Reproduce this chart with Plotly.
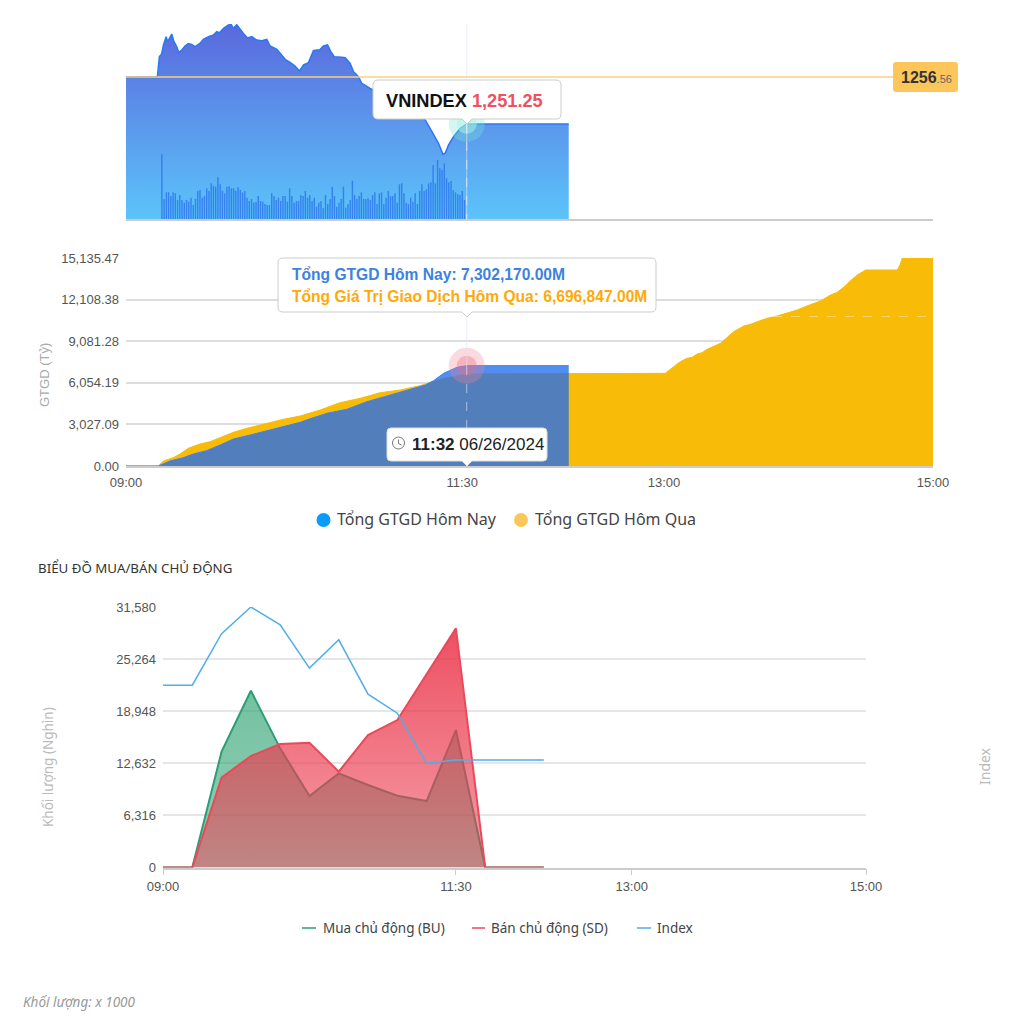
import pandas as pd
import plotly.graph_objects as go

W, H = 1022, 1024
BASE = pd.Timestamp("2024-06-26 09:00")

# ---- VNINDEX line (minutes after 09:00, points)
index_minutes = [0,14,14.9,15.9,16.7,17.9,18.6,19.3,20.4,21.4,22.6,23.5,24.9,26.3,27.8,29.3,30.8,33,34.5,36.8,39,40.5,41.7,43.5,45.7,46.9,47.9,49.4,50.9,52.4,54.2,56.1,58.3,60.6,62.8,64.3,67.3,68.8,71.3,73.2,75.4,77.4,79.2,81.4,83.6,85.1,86.3,88.1,89.9,91.4,92.9,96.3,97.8,100,101.5,103.7,105.2,108.9,110.4,116.4,123.8,129.8,133.5,136.5,139.4,141.4,142.4,143.9,146.1,149.1,152,197.5]
index_values = [1256.56,1256.6,1258.86,1259.16,1260.18,1261.12,1260.55,1260.93,1261.42,1260.55,1259.99,1259.35,1259.61,1260.06,1260.33,1260.25,1259.99,1260.36,1260.82,1261.12,1261.31,1261.68,1261.57,1262.06,1262.44,1262.51,1262.06,1262.47,1261.95,1261.49,1260.97,1261.12,1260.74,1260.67,1260.82,1260.06,1259.69,1259.23,1258.48,1258.22,1257.8,1257.24,1257.92,1258.18,1259.54,1259.61,1259.61,1260.06,1260.18,1259.42,1258.86,1258.78,1258.74,1258.1,1257.16,1256.6,1255.84,1255.28,1255.09,1254.26,1253.2,1252.27,1251.7,1250.38,1249.06,1247.82,1247.93,1248.88,1249.82,1250.76,1251.25,1251.25]
reference_index = 1256.56
current_index = 1251.25

# ---- per-minute volume bars, from 09:16
volume_start_minute = 16
volume_values = [194,60,80,80,69,80,77,57,72,57,49,57,52,64,42,60,84,87,64,69,92,84,107,100,97,125,104,85,77,97,99,92,92,85,95,87,79,84,64,54,60,49,52,69,54,
                 52,45,42,42,77,69,57,64,54,69,69,52,92,69,49,54,54,72,69,84,64,72,54,64,37,49,54,32,72,45,60,97,69,37,49,60,97,34,44,57,115,72,60,69,80,60,
                 60,62,57,72,80,45,77,80,45,64,84,69,69,77,49,104,107,77,49,45,64,52,77,45,84,104,84,89,107,110,162,107,177,152,147,167,122,110,114,87,80,75,72,84,57]

# ---- cumulative traded value
today_minutes = [0,14.4,19.6,25.6,30,36,42,47.9,55.4,62.8,70.2,77.7,81.4,89.6,98.5,107.5,116.4,125.3,133.5,137.2,141.7,147.6,152,197.5]
today_values = [0,0,364,606,873,1116,1528,1965,2256,2547,2863,3178,3396,3832,4124,4681,5094,5482,5894,6210,6743,7180,7302.17,7302.17]
yesterday_minutes = [0,14.4,16.7,21.1,24.1,27.8,33,37.5,42,47.9,53.9,61.3,70.2,77.7,86.6,95.5,104.5,113.4,122.3,131.2,140,152,238.4,240.6,244.3,247.3,250.3,252.5,254.8,257,259.2,262.2,265.2,267.4,271.1,275.6,278.6,281.6,286,290.5,295,299.4,303.8,309.8,314.3,317.3,321,323.2,326.2,330,344.1,345.3,346.3,360]
yesterday_values = [0,0,364,606,873,1286,1601,1770,2062,2450,2741,3056,3396,3639,4075,4609,4924,5336,5530,5846,6300,6696.85,6743,6743,7229,7593,7835,7908,8150,8247,8490,8684,8926,9242,9775,10188,10309,10503,10746,10915,11110,11352,11643,12007,12444,12638,13123,13486,13899,14263,14263,14627,15135.47,15135.47]
value_ticks = [0,3027.09,6054.19,9081.28,12108.38,15135.47]
value_labels = ["0.00","3,027.09","6,054.19","9,081.28","12,108.38","15,135.47"]

# ---- active buy / sell, every 15 minutes
flow_minutes = [0,15,30,45,60,75,90,105,120,135,150,165,180,195]
buy_values = [0,0,14039,21432,14443,8666,11413,9999,8706,8060,16665,0,0,0]
sell_values = [0,0,10888,13514,14968,15130,11615,16059,17877,23452,28987,0,0,0]
flow_index = [1256.56,1256.56,1260.21,1262.11,1260.85,1257.77,1259.78,1255.92,1254.57,1251.01,1251.25,1251.25,1251.25,1251.25]
flow_ticks = [0,6316,12632,18948,25264,31580]
flow_labels = ["0","6,316","12,632","18,948","25,264","31,580"]

time_ticks = [0,150,240,360]
time_labels = ["09:00","11:30","13:00","15:00"]
crosshair_minute = 152

GRAY = "#555555"
SANS = "Liberation Sans"
NOTO = "Noto Sans"


def t(minutes):
    return BASE + pd.to_timedelta(minutes, unit="min")


def fx(x):
    return x / W


def fy(y):
    return 1 - y / H


def box(x0, y0, x1, y1, r=5, caret=None):
    """Rounded tooltip outline in paper coordinates, given page pixels."""
    p = [f"M {fx(x0+r)} {fy(y0)}", f"L {fx(x1-r)} {fy(y0)}",
         f"Q {fx(x1)} {fy(y0)} {fx(x1)} {fy(y0+r)}", f"L {fx(x1)} {fy(y1-r)}",
         f"Q {fx(x1)} {fy(y1)} {fx(x1-r)} {fy(y1)}"]
    if caret is not None:
        p += [f"L {fx(caret+5)} {fy(y1)}", f"L {fx(caret)} {fy(y1+5)}", f"L {fx(caret-5)} {fy(y1)}"]
    p += [f"L {fx(x0+r)} {fy(y1)}", f"Q {fx(x0)} {fy(y1)} {fx(x0)} {fy(y1-r)}",
          f"L {fx(x0)} {fy(y0+r)}", f"Q {fx(x0)} {fy(y0)} {fx(x0+r)} {fy(y0)} Z"]
    return " ".join(p)


def text(x, y, s, size, color, anchor="left", family=SANS, angle=0):
    # plotly pads annotation text by 2px on the left
    x = x - 2 if anchor == "left" else x
    return dict(x=fx(x), y=fy(y), xref="paper", yref="paper", text=s, showarrow=False,
                xanchor=anchor, yanchor="middle", textangle=angle,
                font=dict(size=size, color=color, family=family))


fig = go.Figure()

# Chart 1: index area and volume
fig.add_trace(go.Scatter(
    x=t(index_minutes), y=index_values, mode="lines", xaxis="x", yaxis="y",
    line=dict(color="#2a78f0", width=1.5), fill="tozeroy",
    fillgradient=dict(type="vertical", start=1240.5, stop=1262.55,
                      colorscale=[[0, "#5cc3fa"], [1, "#5a68dd"]]),
    showlegend=False))
fig.add_trace(go.Scatter(x=t([crosshair_minute]), y=[current_index], mode="markers", xaxis="x", yaxis="y",
                         marker=dict(size=36, color="rgba(120,230,215,0.32)"), showlegend=False))
fig.add_trace(go.Scatter(x=t([crosshair_minute]), y=[current_index], mode="markers", xaxis="x", yaxis="y",
                         marker=dict(size=20, color="rgba(170,245,230,0.5)"), showlegend=False))
fig.add_trace(go.Bar(
    x=t([volume_start_minute + i for i in range(len(volume_values))]), y=volume_values,
    xaxis="x", yaxis="y2", width=38000, marker=dict(color="rgba(45,120,235,0.85)", line_width=0), showlegend=False))

# Chart 2: cumulative traded value
fig.add_trace(go.Scatter(x=t(yesterday_minutes), y=yesterday_values, mode="lines", xaxis="x2", yaxis="y3",
                         line=dict(color="#f8bb08", width=1), fill="tozeroy", fillcolor="#f8bb08",
                         showlegend=False))
fig.add_trace(go.Scatter(x=t(today_minutes), y=today_values, mode="lines", xaxis="x2", yaxis="y3",
                         line=dict(color="#3b82f6", width=1), fill="tozeroy", fillcolor="rgba(40,112,232,0.8)",
                         showlegend=False))
fig.add_trace(go.Scatter(x=t([crosshair_minute]), y=[today_values[-1]], mode="markers", xaxis="x2", yaxis="y3",
                         marker=dict(size=36, color="rgba(245,130,150,0.3)"), showlegend=False))
fig.add_trace(go.Scatter(x=t([crosshair_minute]), y=[today_values[-1]], mode="markers", xaxis="x2", yaxis="y3",
                         marker=dict(size=20, color="rgba(235,110,130,0.35)"), showlegend=False))

# Chart 3: active buy / sell and index
fig.add_trace(go.Scatter(
    x=t(flow_minutes), y=buy_values, mode="lines", xaxis="x3", yaxis="y4",
    line=dict(color="#2d9d78", width=2), fill="tozeroy",
    fillgradient=dict(type="vertical", start=0, stop=flow_ticks[-1],
                      colorscale=[[0, "rgba(40,160,110,0.5)"], [1, "rgba(40,160,110,0.72)"]]),
    name="Mua chủ động (BU)", showlegend=False))
fig.add_trace(go.Scatter(
    x=t(flow_minutes), y=sell_values, mode="lines", xaxis="x3", yaxis="y4",
    line=dict(color="#e84a5a", width=2), fill="tozeroy",
    fillgradient=dict(type="vertical", start=0, stop=sell_values[10],
                      colorscale=[[0, "rgba(235,60,80,0.5)"], [1, "rgba(235,60,80,0.9)"]]),
    name="Bán chủ động (SD)", showlegend=False))
fig.add_trace(go.Scatter(x=t(flow_minutes), y=flow_index, mode="lines", xaxis="x3", yaxis="y5",
                         line=dict(color="#50aee8", width=1.5), name="Index", showlegend=False))

hair = dict(type="line", layer="above")
shapes = [
    # index reference line and price tag
    dict(type="line", xref="paper", yref="y", x0=fx(126), x1=fx(893), y0=reference_index, y1=reference_index,
         line=dict(color="#f8cf80", width=1.5)),
    dict(type="path", xref="paper", yref="paper", path=box(893, 62, 958, 92, 3),
         fillcolor="#fdc65a", line=dict(width=0)),
    # crosshairs
    dict(hair, xref="x", yref="paper", x0=t(crosshair_minute), x1=t(crosshair_minute), y0=fy(24), y1=fy(219),
         line=dict(color="rgba(225,225,245,0.6)", width=1)),
    dict(hair, xref="x", yref="paper", x0=t(crosshair_minute), x1=t(crosshair_minute), y0=fy(124), y1=fy(219),
         line=dict(color="rgba(255,255,255,0.55)", width=1, dash="dash")),
    dict(hair, xref="x2", yref="paper", x0=t(crosshair_minute), x1=t(crosshair_minute), y0=fy(315), y1=fy(366),
         line=dict(color="rgba(225,225,245,0.6)", width=1)),
    dict(hair, xref="x2", yref="paper", x0=t(crosshair_minute), x1=t(crosshair_minute), y0=fy(366), y1=fy(466),
         line=dict(color="rgba(255,255,255,0.5)", width=1, dash="dash")),
    dict(hair, xref="paper", yref="paper", x0=fx(467), x1=fx(933), y0=fy(316.5), y1=fy(316.5),
         line=dict(color="rgba(255,255,255,0.4)", width=1, dash="dash")),
    # tooltips
    dict(type="path", xref="paper", yref="paper", path=box(373, 80, 561, 119, 5, 467),
         fillcolor="white", line=dict(color="#cccccc", width=1)),
    dict(type="path", xref="paper", yref="paper", path=box(278, 258, 656, 312, 5, 467),
         fillcolor="white", line=dict(color="#cccccc", width=1)),
    dict(type="path", xref="paper", yref="paper", path=box(387, 428, 547, 461, 4, 467),
         fillcolor="white", line=dict(color="#dddddd", width=1)),
    # clock icon
    dict(type="circle", xref="paper", yref="paper", x0=fx(392.5), x1=fx(404.5), y0=fy(437), y1=fy(449),
         line=dict(color="#777777", width=1)),
    dict(type="path", xref="paper", yref="paper",
         path=f"M {fx(398.5)} {fy(439.5)} L {fx(398.5)} {fy(443.5)} L {fx(401.5)} {fy(445)}",
         line=dict(color="#777777", width=1)),
    # legend keys
    dict(type="circle", xref="paper", yref="paper", x0=fx(316.5), x1=fx(330.5), y0=fy(513), y1=fy(527),
         fillcolor="#0a9bfc", line=dict(width=0)),
    dict(type="circle", xref="paper", yref="paper", x0=fx(514), x1=fx(528), y0=fy(513), y1=fy(527),
         fillcolor="#fdc65a", line=dict(width=0)),
    dict(type="line", xref="paper", yref="paper", x0=fx(302), x1=fx(316), y0=fy(928), y1=fy(928),
         line=dict(color="#2d9d78", width=1.5)),
    dict(type="line", xref="paper", yref="paper", x0=fx(472), x1=fx(485), y0=fy(928), y1=fy(928),
         line=dict(color="#e84a5a", width=1.5)),
    dict(type="line", xref="paper", yref="paper", x0=fx(637), x1=fx(651), y0=fy(928), y1=fy(928),
         line=dict(color="#50aee8", width=1.5)),
]

annotations = [
    text(901, 77, "<b>1256</b><span style='font-size:11px;color:#666'>.56</span>", 16, "#333333"),
    text(386, 100.5, "<b>VNINDEX</b> <b style='color:#f0505f'>1,251.25</b>", 18.2, "#111111"),
    text(292, 274.5, "<b>Tổng GTGD Hôm Nay: 7,302,170.00M</b>", 15.6, "#3c82e0"),
    text(292, 296.5, "<b>Tổng Giá Trị Giao Dịch Hôm Qua: 6,696,847.00M</b>", 15.6, "#ffa90a"),
    text(412, 444.5, "<b>11:32</b> 06/26/2024", 17, "#222222"),
    text(44, 375, "GTGD (Tỷ)", 13, "#aaaaaa", "center", angle=-90),
    text(38, 568, "BIỂU ĐỒ MUA/BÁN CHỦ ĐỘNG", 13.3, "#333333", family=NOTO),
    text(48, 767, "Khối lượng (Nghìn)", 13.5, "#bbbbbb", "center", family=NOTO, angle=-90),
    text(984, 766, "Index", 14, "#bbbbbb", "center", family=NOTO, angle=-90),
    text(23, 1002, "<i>Khối lượng: x 1000</i>", 13.5, "#999999", family=NOTO),
    text(337, 518.5, "Tổng GTGD Hôm Nay", 16, "#444444", family=NOTO),
    text(535, 518.5, "Tổng GTGD Hôm Qua", 16, "#444444", family=NOTO),
    text(323, 928, "Mua chủ động (BU)", 13.5, "#444444", family=NOTO),
    text(491, 928, "Bán chủ động (SD)", 13.5, "#444444", family=NOTO),
    text(657, 928, "Index", 13.5, "#444444", family=NOTO),
]

time_axis = dict(type="date", range=[t(0), t(360)], tickmode="array",
                 tickvals=[t(m) for m in time_ticks], ticktext=time_labels,
                 showgrid=False, zeroline=False)

fig.update_layout(
    width=W, height=H, margin=dict(l=0, r=0, t=0, b=0, autoexpand=False), autosize=False,
    paper_bgcolor="white", plot_bgcolor="white", hovermode=False, barmode="overlay",
    showlegend=False, font=dict(family=SANS, color=GRAY),
    xaxis=dict(time_axis, domain=[fx(126), fx(933)], anchor="y", showticklabels=False, ticks="",
               showline=True, linecolor="#cccccc", linewidth=1.5),
    yaxis=dict(domain=[fy(219), fy(24)], range=[1240.5, 1262.55], visible=False),
    yaxis2=dict(domain=[fy(219), fy(24)], range=[0, 585], visible=False, overlaying="y"),
    xaxis2=dict(time_axis, domain=[fx(126), fx(933)], anchor="y3", ticks="", ticklabelstandoff=4,
                showline=True, linecolor="#cccccc", linewidth=1.5, layer="below traces",
                tickfont=dict(size=13, color=GRAY, family=SANS)),
    yaxis3=dict(domain=[fy(466), fy(258)], range=[0, value_ticks[-1]], anchor="x2", tickmode="array",
                tickvals=value_ticks, ticktext=value_labels, gridcolor="#dddddd", gridwidth=1.5,
                zeroline=False, ticks="", ticklabelstandoff=6,
                tickfont=dict(size=13, color=GRAY, family=SANS)),
    xaxis3=dict(time_axis, domain=[fx(163), fx(866)], anchor="y4", ticks="outside", ticklen=6,
                tickcolor="#cccccc", showline=True, linecolor="#cccccc", linewidth=1.5, layer="below traces",
                tickfont=dict(size=13, color=GRAY, family=SANS)),
    yaxis4=dict(domain=[fy(867.5), fy(607)], range=[0, flow_ticks[-1]], anchor="x3", tickmode="array",
                tickvals=flow_ticks, ticktext=flow_labels, gridcolor="#e6e6e6", gridwidth=1.5,
                zeroline=False, ticks="", ticklabelstandoff=6,
                tickfont=dict(size=13, color=GRAY, family=SANS)),
    yaxis5=dict(domain=[fy(867.5), fy(607)], range=[1243.61, 1262.11], visible=False, overlaying="y4"),
    shapes=shapes, annotations=annotations,
)

fig.write_html("out.html", post_script="document.body.style.margin='0';",
               config=dict(displayModeBar=False))
